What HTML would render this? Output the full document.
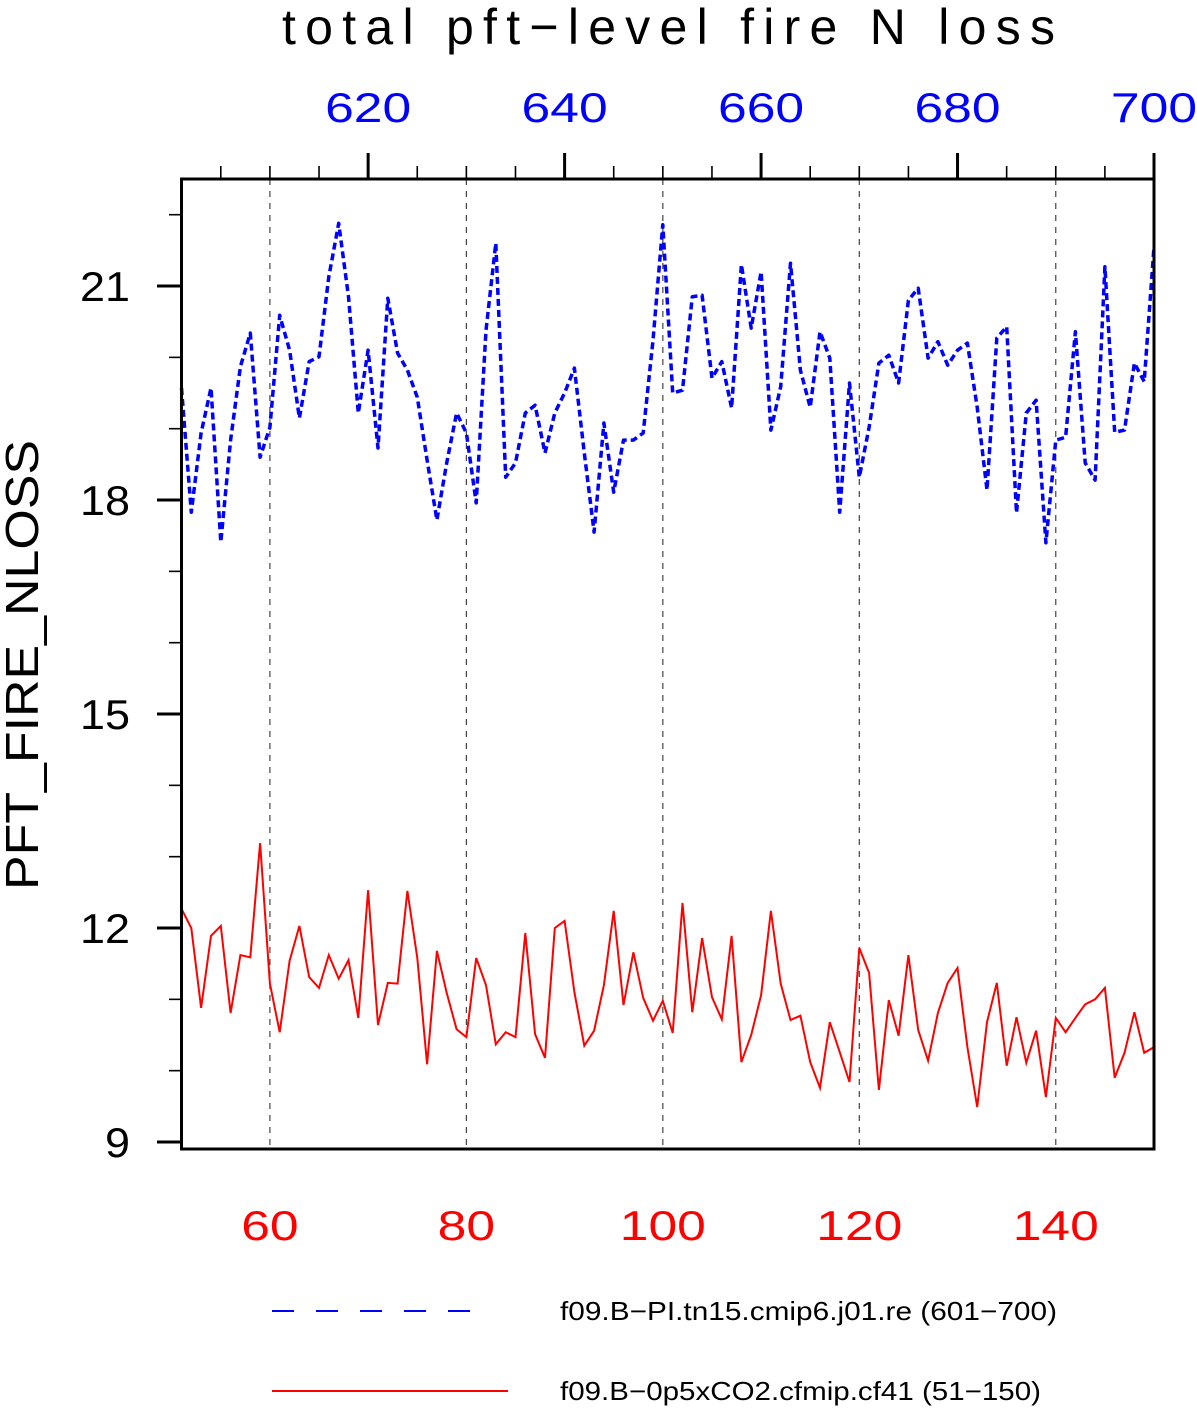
<!DOCTYPE html>
<html><head><meta charset="utf-8"><style>
html,body{margin:0;padding:0;background:#fff;}
svg{display:block;}
text{font-family:"Liberation Sans","DejaVu Sans",sans-serif;}
</style></head><body>
<svg id="chart" width="1197" height="1408" viewBox="0 0 1197 1408" xmlns="http://www.w3.org/2000/svg">
<text x="282" y="44" font-size="50" textLength="773" lengthAdjust="spacing">total pft−level fire N loss</text>
<text x="0" y="0" font-size="46" text-anchor="middle" textLength="450" lengthAdjust="spacingAndGlyphs" transform="translate(38,665) rotate(-90)">PFT_FIRE_NLOSS</text>
<g id="grid"></g>
<g id="series"></g>
<g id="axes"></g>
<g>
<line x1="272" y1="1311" x2="492" y2="1311" stroke="#0000ff" stroke-width="2" stroke-dasharray="22,22"/>
<text x="560" y="1320" font-size="26" textLength="497" lengthAdjust="spacingAndGlyphs">f09.B−PI.tn15.cmip6.j01.re (601−700)</text>
<line x1="272" y1="1391" x2="508" y2="1391" stroke="#ff0000" stroke-width="2"/>
<text x="560" y="1400" font-size="26" textLength="481" lengthAdjust="spacingAndGlyphs">f09.B−0p5xCO2.cfmip.cf41 (51−150)</text>
</g>
</svg>
<script>
const bottomYears = [];
for (let i = 51; i <= 150; i++) bottomYears.push(i);
const topYears = [];
for (let i = 601; i <= 700; i++) topYears.push(i);
const blueValues = [19.57,17.83,18.94,19.57,17.41,18.84,19.87,20.34,18.60,19.02,
20.59,20.10,19.15,19.94,20.01,21.13,21.88,20.85,19.22,20.10,
18.73,20.83,20.06,19.82,19.44,18.56,17.72,18.52,19.22,18.94,
17.96,20.38,21.60,18.32,18.52,19.22,19.33,18.66,19.22,19.50,
19.85,18.66,17.55,19.08,18.11,18.84,18.84,18.94,20.24,21.86,
19.50,19.54,20.85,20.87,19.71,19.94,19.29,21.30,20.41,21.20,
18.98,19.59,21.32,19.82,19.30,20.36,19.99,17.83,19.64,18.32,
19.02,19.92,20.03,19.64,20.80,20.97,19.99,20.22,19.89,20.10,
20.20,19.30,18.14,20.27,20.43,17.82,19.22,19.40,17.40,18.84,
18.88,20.36,18.52,18.28,21.27,18.95,18.98,19.92,19.66,21.55];
const redValues = [12.27,12.00,10.88,11.89,12.03,10.81,11.62,11.59,13.19,11.22,
10.54,11.54,12.03,11.31,11.16,11.62,11.29,11.55,10.74,12.53,
10.64,11.23,11.22,12.52,11.58,10.09,11.68,11.09,10.58,10.47,
11.58,11.20,10.37,10.54,10.47,11.93,10.51,10.18,12.00,12.10,
11.10,10.35,10.56,11.20,12.24,10.92,11.66,11.02,10.70,10.98,
10.53,12.35,10.82,11.86,11.03,10.72,11.89,10.12,10.50,11.06,
12.24,11.22,10.71,10.77,10.12,9.76,10.68,10.26,9.84,11.72,
11.37,9.73,10.99,10.49,11.62,10.57,10.14,10.81,11.23,11.44,
10.33,9.49,10.68,11.23,10.07,10.75,10.11,10.56,9.63,10.74,
10.54,10.74,10.93,11.00,11.16,9.90,10.25,10.82,10.25,10.33];
const yTickLabels = [9,12,15,18,21];
const bottomTickLabels = [60,80,100,120,140];
const topTickLabels = [620,640,660,680,700];

const NS = "http://www.w3.org/2000/svg";
const L = 181.5, R = 1154, T = 179, B = 1149;
const xMin = 51, xMax = 150, topOffset = 550;
function xs(v){ return L + (v - xMin) * (R - L) / (xMax - xMin); }
function xsTop(v){ return xs(v - topOffset); }
function ys(v){ return 1142 - (v - 9) * 71.33; }
function mk(tag, attrs, parent){
  const el = document.createElementNS(NS, tag);
  for (const k in attrs) el.setAttribute(k, attrs[k]);
  parent.appendChild(el);
  return el;
}
function labelLen(v){ return String(v).length * 28.7; }
const grid = document.getElementById('grid');
const axes = document.getElementById('axes');
const series = document.getElementById('series');

bottomTickLabels.forEach(v => {
  const g = mk('line', {x1: xs(v), x2: xs(v), y1: T, y2: B, stroke: '#444', 'stroke-width': 1.2, 'stroke-dasharray': '6,6'}, grid);
  
  
  const t = mk('text', {x: xs(v), y: 1240, 'font-size': 42, fill: '#ff0000', 'text-anchor': 'middle', textLength: labelLen(v), lengthAdjust: 'spacingAndGlyphs'}, axes);
  t.textContent = v;
  
  
});
for (let v = 605; v <= 700; v += 5) {
  const major = v % 20 === 0;
  const tk = mk('line', {x1: xsTop(v), x2: xsTop(v), y1: T, y2: major ? 153 : 166, stroke: '#000', 'stroke-width': major ? 3 : 1.6}, axes);
  
  
}
topTickLabels.forEach(v => {
  const t = mk('text', {x: xsTop(v), y: 122, 'font-size': 42, fill: '#0000ff', 'text-anchor': 'middle', textLength: labelLen(v), lengthAdjust: 'spacingAndGlyphs'}, axes);
  t.textContent = v;
  
  
});
for (let v = 9; v <= 22; v += 1) {
  const major = (v - 9) % 3 === 0;
  const tk = mk('line', {x1: major ? 157 : 169, x2: L, y1: ys(v), y2: ys(v), stroke: '#000', 'stroke-width': major ? 3 : 1.6}, axes);
  
  
}
yTickLabels.forEach(v => {
  const t = mk('text', {x: 130, y: ys(v) + 15, 'font-size': 42, 'text-anchor': 'end', textLength: String(v).length * 25, lengthAdjust: 'spacingAndGlyphs'}, axes);
  t.textContent = v;
  
  
});
const frame = mk('rect', {x: L, y: T, width: R - L, height: B - T, fill: 'none', stroke: '#000', 'stroke-width': 3}, axes);



const bluePts = blueValues.map((v, i) => xsTop(topYears[i]).toFixed(1) + ',' + ys(v).toFixed(1)).join(' ');
const blue = mk('polyline', {points: bluePts, fill: 'none', stroke: '#0000ff', 'stroke-width': 3.5, 'stroke-dasharray': '7,4', 'stroke-linejoin': 'round'}, series);


const redPts = redValues.map((v, i) => xs(bottomYears[i]).toFixed(1) + ',' + ys(v).toFixed(1)).join(' ');
const red = mk('polyline', {points: redPts, fill: 'none', stroke: '#ff0000', 'stroke-width': 2}, series);


</script>
</body></html>
